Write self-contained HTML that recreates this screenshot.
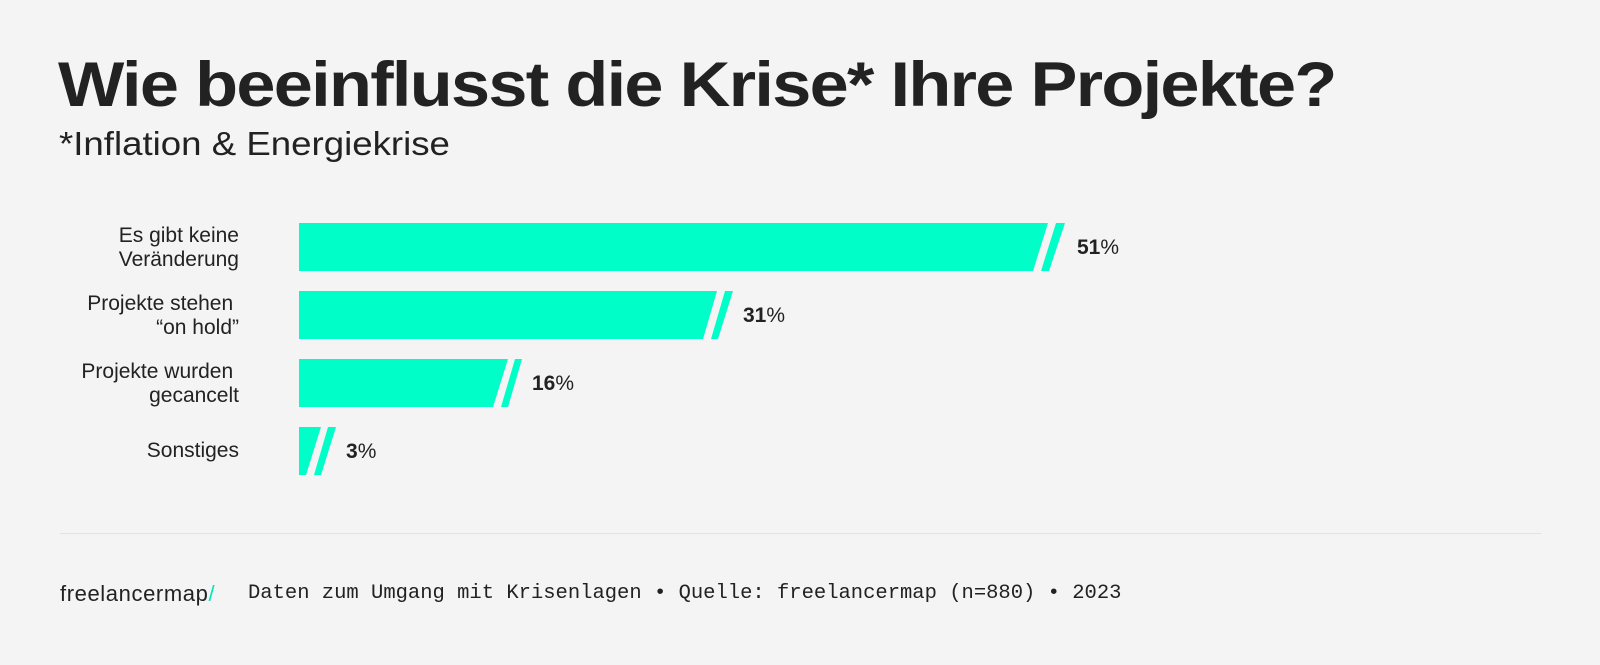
<!DOCTYPE html>
<html><head><meta charset="utf-8"><style>
html,body{margin:0;padding:0;}
body{width:1600px;height:665px;background:#f4f4f4;position:relative;overflow:hidden;font-family:"Liberation Sans",sans-serif;color:#222;}
.t{position:absolute;white-space:nowrap;}
.title{left:58px;top:50px;font-size:63px;font-weight:bold;letter-spacing:-1.5px;line-height:70px;transform:scaleX(1.115);transform-origin:0 0;}
.sub{left:59px;top:124px;font-size:33px;line-height:40px;font-weight:normal;transform:scaleX(1.11);transform-origin:0 0;}
.lab{position:absolute;right:1361px;text-align:right;font-size:21px;line-height:24px;white-space:nowrap;}
.val{position:absolute;font-size:21px;font-weight:bold;line-height:24px;}
.foot{left:60px;top:582px;font-size:22px;line-height:24px;letter-spacing:0.6px;}
.mono{left:248px;top:582px;font-family:"Liberation Mono",monospace;font-size:20.5px;line-height:24px;}
</style></head><body>
<div class="t title">Wie beeinflusst die Krise* Ihre Projekte?</div>
<div class="t sub">*Inflation &amp; Energiekrise</div>

<div class="lab" style="top:224px">Es gibt keine<br>Veränderung</div>
<div class="lab" style="top:292px">Projekte stehen&nbsp;<br>“on hold”</div>
<div class="lab" style="top:360px">Projekte wurden&nbsp;<br>gecancelt</div>
<div class="lab" style="top:439px">Sonstiges</div>

<svg width="1600" height="665" style="position:absolute;left:0;top:0">
<g fill="#00ffc8">
<polygon points="299,223 1048,223 1033,271 299,271"/>
<polygon points="1056,223 1065,223 1049,271 1041,271"/>
<polygon points="299,291 717,291 703,339 299,339"/>
<polygon points="725,291 733,291 718,339 711,339"/>
<polygon points="299,359 508,359 493,407 299,407"/>
<polygon points="515,359 522,359 508,407 501,407"/>
<polygon points="299,427 321,427 306,475 299,475"/>
<polygon points="328,427 336,427 321,475 314,475"/>
</g>
<line x1="60" y1="533.5" x2="1541" y2="533.5" stroke="#e2e2e2" stroke-width="1"/>
</svg>

<div class="val" style="left:1077px;top:236px">51<span style="font-weight:normal">%</span></div>
<div class="val" style="left:743px;top:304px">31<span style="font-weight:normal">%</span></div>
<div class="val" style="left:532px;top:372px">16<span style="font-weight:normal">%</span></div>
<div class="val" style="left:346px;top:440px">3<span style="font-weight:normal">%</span></div>

<div class="t foot">freelancermap<span style="color:#00e8b8">/</span></div>
<div class="t mono">Daten zum Umgang mit Krisenlagen • Quelle: freelancermap (n=880) • 2023</div>
</body></html>
